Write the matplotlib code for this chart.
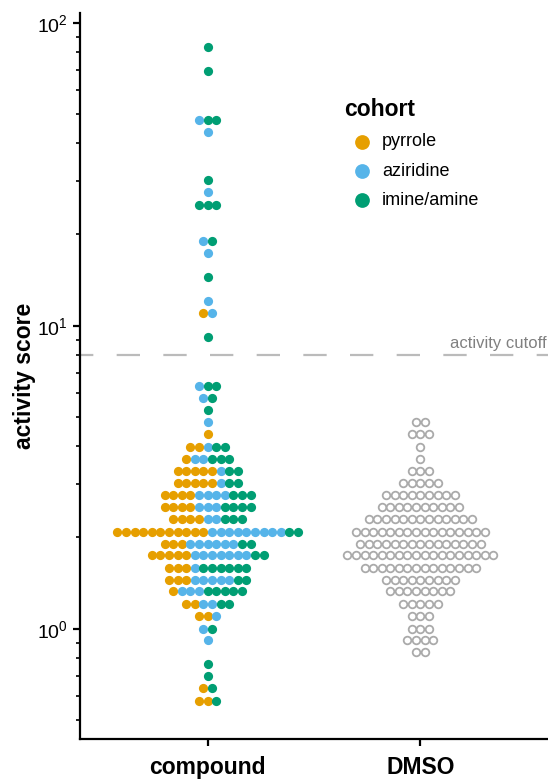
import matplotlib
matplotlib.use("Agg")
import matplotlib.pyplot as plt
import matplotlib.transforms as mtransforms
import numpy as np

plt.rcParams['font.family'] = ['Liberation Sans', 'DejaVu Sans']
plt.rcParams['mathtext.default'] = 'regular'

# compound rows: bin value and dot counts per cohort (left to right)
row_values = [82.9, 69.2, 47.7, 43.7, 30.2, 27.6, 25.1, 19.1, 17.4, 14.5,
              12.1, 11.0, 9.15, 6.34, 5.77, 5.27, 4.80, 4.38, 3.99, 3.64,
              3.32, 3.03, 2.76, 2.53, 2.30, 2.09, 1.91, 1.75, 1.59, 1.45,
              1.33, 1.21, 1.10, 1.00, 0.92, 0.764, 0.70, 0.635, 0.578]
pyrrole = [0, 0, 0, 0, 0, 0, 0, 0, 0, 0,
           0, 1, 0, 0, 0, 0, 0, 1, 2, 1,
           5, 5, 4, 4, 4, 11, 3, 5, 3, 3,
           1, 2, 2, 0, 0, 0, 0, 1, 2]
aziridine = [0, 0, 1, 1, 0, 1, 0, 1, 1, 0,
             1, 1, 0, 1, 1, 0, 1, 0, 1, 2,
             1, 1, 4, 3, 2, 9, 6, 7, 1, 5,
             3, 2, 1, 1, 1, 0, 0, 0, 0]
imine = [1, 1, 2, 0, 1, 0, 3, 1, 0, 1,
         0, 0, 1, 2, 1, 1, 0, 0, 2, 3,
         2, 2, 3, 4, 3, 2, 2, 2, 6, 2,
         5, 2, 0, 1, 0, 1, 1, 1, 1]

# DMSO rows
dmso_values = [4.80, 4.38, 3.99, 3.64, 3.32, 3.03, 2.76, 2.53, 2.30, 2.09,
               1.91, 1.75, 1.59, 1.45, 1.33, 1.21, 1.10, 1.00, 0.92, 0.84]
dmso_counts = [2, 3, 1, 1, 3, 5, 9, 10, 13, 16,
               15, 18, 14, 9, 8, 5, 3, 3, 4, 2]

groups = ['compound', 'DMSO']
cohorts = ['pyrrole', 'aziridine', 'imine/amine']
colors = ['#E69F00', '#56B4E9', '#009E73']
cutoff = 8

dx = 0.0404  # horizontal step between stacked dots

fig = plt.figure(figsize=(5.48, 7.81), dpi=100)
ax = fig.add_axes([0.146, 0.0538, 0.854, 0.9296])

# stack compound dots, centred per row, cohorts ordered left to right
pts = {c: ([], []) for c in cohorts}
for i, v in enumerate(row_values):
    counts = [pyrrole[i], aziridine[i], imine[i]]
    n = sum(counts)
    offs = (np.arange(n) - (n - 1) / 2) * dx
    k = 0
    for c, m in zip(cohorts, counts):
        for _ in range(m):
            pts[c][0].append(1 + offs[k])
            pts[c][1].append(v)
            k += 1

for c, col in zip(cohorts, colors):
    ax.scatter(pts[c][0], pts[c][1], s=44, color=col, linewidths=0,
               label=c, zorder=3)

dxs, dys = [], []
for v, n in zip(dmso_values, dmso_counts):
    offs = (np.arange(n) - (n - 1) / 2) * dx
    dxs.extend(2 + offs)
    dys.extend([v] * n)
ax.scatter(dxs, dys, s=30, facecolors='white', edgecolors='#AAAAAA',
           linewidths=1.3, zorder=3)

ax.axhline(cutoff, color='#BBBBBB', lw=1.6, ls=(4.5, (10.5, 10.5)), zorder=1)
trans = mtransforms.blended_transform_factory(ax.transAxes, ax.transData)
ax.annotate('activity cutoff', xy=(1, cutoff), xycoords=trans,
            xytext=(-1, 3), textcoords='offset points', ha='right', va='bottom',
            fontsize=12, color='#808080')

ax.set_yscale('log')
ax.set_ylim(10 ** -0.364, 10 ** 2.032)
ax.set_xlim(0.4, 2.6)

for s in ['top', 'right']:
    ax.spines[s].set_visible(False)
for s in ['left', 'bottom']:
    ax.spines[s].set_linewidth(1.6)
ax.tick_params(axis='both', which='major', width=1.6, length=5, labelsize=14)
ax.tick_params(axis='y', which='minor', width=1.2, length=3)
ax.tick_params(axis='x', pad=7)

ax.set_xticks([1, 2])
ax.set_xticklabels(groups, fontsize=16.5, fontweight='bold')
ax.set_ylabel('activity score', fontsize=16.5, fontweight='bold', labelpad=1)

leg = ax.legend(title='cohort', loc='upper left', bbox_to_anchor=(0.53, 0.905),
                frameon=False, fontsize=13, markerscale=1.6,
                handletextpad=0.1, labelspacing=0.68, alignment='left')
leg.get_title().set_fontsize(16.5)
leg.get_title().set_fontweight('bold')

fig.savefig('out.png', dpi=100)
